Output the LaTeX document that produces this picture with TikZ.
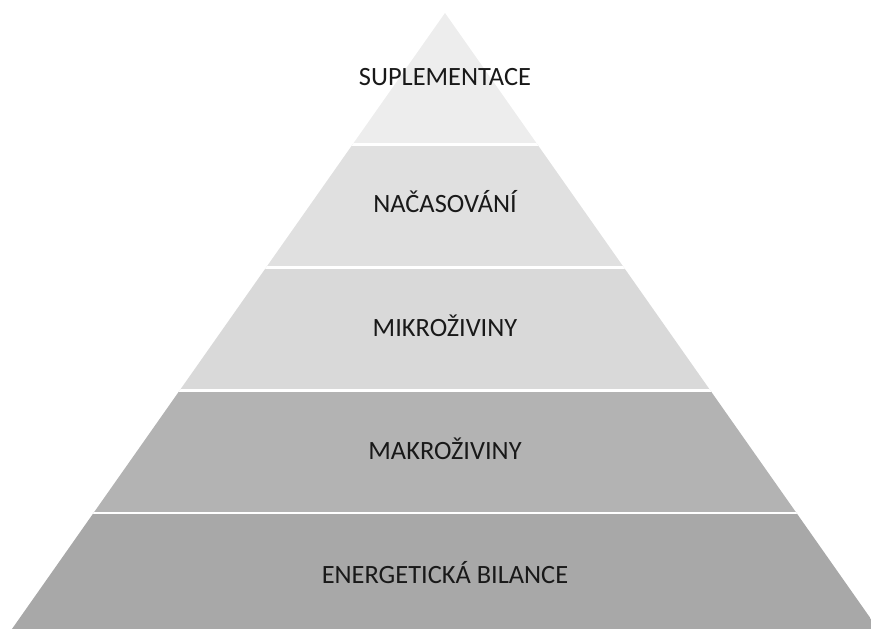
\documentclass[tikz,border=0pt]{standalone}
\usepackage{fontspec}
\setmainfont{Carlito}
\definecolor{bandA}{HTML}{EDEDED}
\definecolor{bandB}{HTML}{E0E0E0}
\definecolor{bandC}{HTML}{D9D9D9}
\definecolor{bandD}{HTML}{B3B3B3}
\definecolor{bandE}{HTML}{A8A8A8}
\tikzset{lbl/.style={anchor=base,inner sep=0pt,font=\fontsize{26.4bp}{31bp}\selectfont,text=black!90},
 gap/.style={draw=white,line width=2.6bp}}
\begin{document}
\begin{tikzpicture}[x=1bp,y=-1bp]
\useasboundingbox (0,0) rectangle (871,629);
\begin{scope}
\clip (445,13) -- (889,644.6) -- (1,644.6) -- cycle;
\fill[bandA] (0,0) rectangle (900,144.5);
\fill[bandB] (0,144.5) rectangle (900,267.5);
\fill[bandC] (0,267.5) rectangle (900,390.5);
\fill[bandD] (0,390.5) rectangle (900,513);
\fill[bandE] (0,513) rectangle (900,650);
\draw[gap] (0,144.5) -- (900,144.5);
\draw[gap] (0,267.5) -- (900,267.5);
\draw[gap] (0,390.5) -- (900,390.5);
\draw[gap] (0,513) -- (900,513);
\end{scope}
\node[lbl] (t1) at (445,86) {SUPLEMENTACE};
\node[lbl] (t2) at (445,213) {NAČASOVÁNÍ};
\node[lbl] (t3) at (445,336) {MIKROŽIVINY};
\node[lbl] (t4) at (445,459) {MAKROŽIVINY};
\node[lbl] (t5) at (445,583) {ENERGETICKÁ BILANCE};
\end{tikzpicture}
\end{document}
